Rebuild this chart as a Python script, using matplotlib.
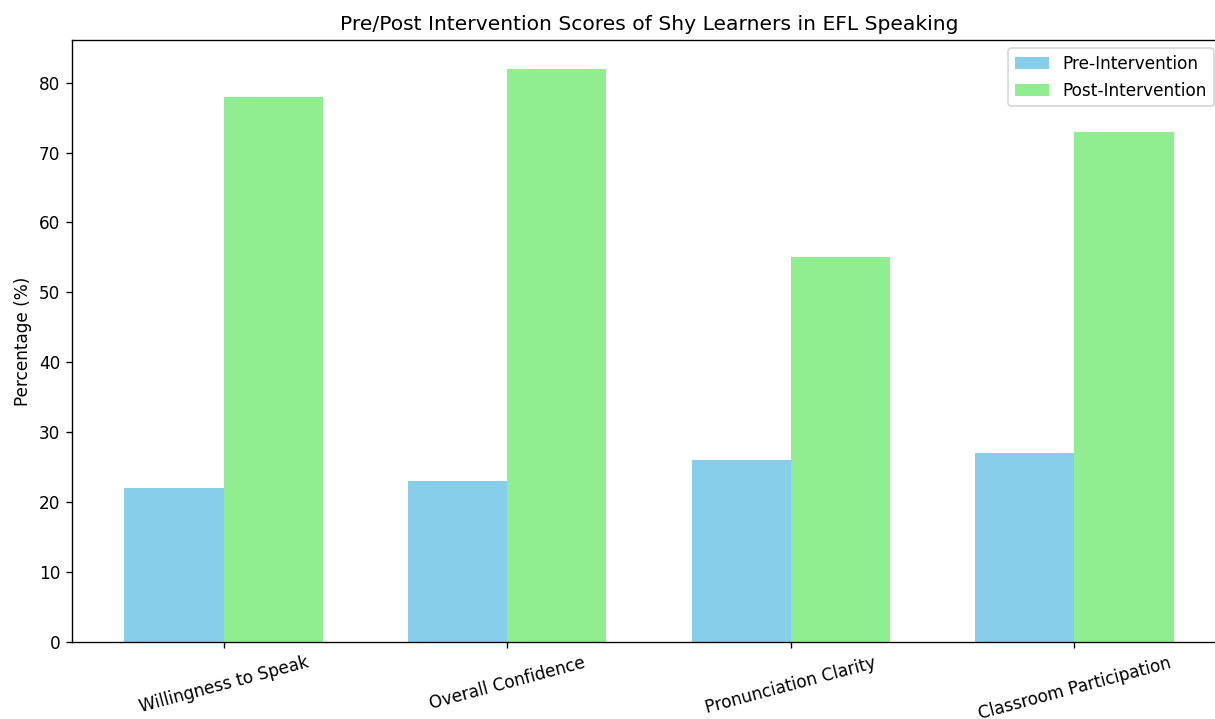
import matplotlib
matplotlib.use("Agg")
import matplotlib.pyplot as plt
import numpy as np

categories = ['Willingness to Speak', 'Overall Confidence',
              'Pronunciation Clarity', 'Classroom Participation']
pre_scores = [22, 23, 26, 27]
post_scores = [78, 82, 55, 73]

dpi = 121.5
fig = plt.figure(figsize=(1215 / dpi, 719 / dpi), dpi=dpi)
# right edge of the axes falls just outside the picture
ax = fig.add_axes([72 / 1215, 1 - 642 / 719, 1154 / 1215, 602 / 719])

x = np.arange(len(categories))
width = 0.35
ax.bar(x - width / 2, pre_scores, width, color='skyblue', label='Pre-Intervention')
ax.bar(x + width / 2, post_scores, width, color='lightgreen', label='Post-Intervention')

ax.set_xticks(x)
ax.set_xticklabels(categories, rotation=15)
ax.set_ylabel('Percentage (%)')
ax.set_title('Pre/Post Intervention Scores of Shy Learners in EFL Speaking')
ax.legend(loc='upper right', bbox_to_anchor=(0.9965, 1.0))

fig.savefig('out.png', dpi=dpi)
